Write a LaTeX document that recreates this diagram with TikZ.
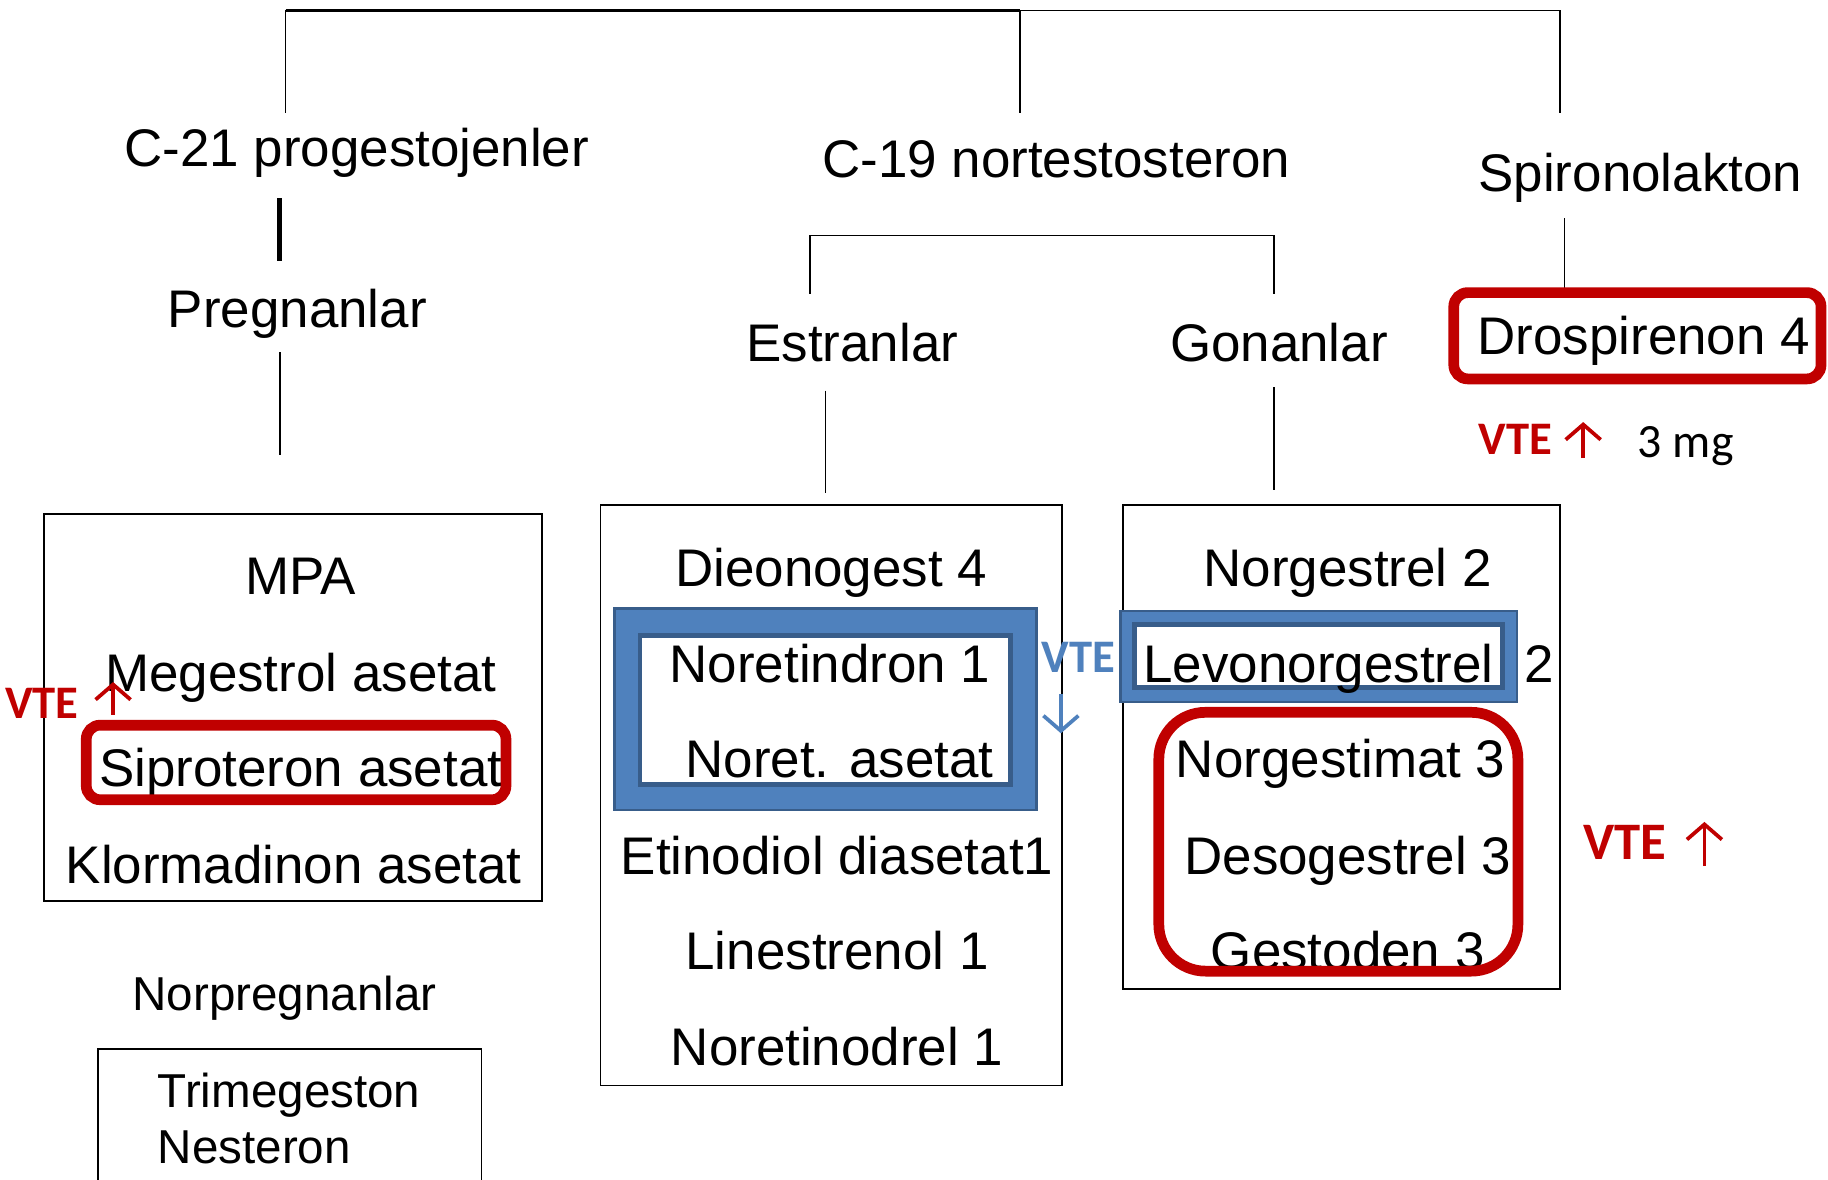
\documentclass[tikz,border=0pt]{standalone}
\usepackage{fontspec}
\setmainfont{Liberation Sans}
\newfontfamily\calibri{Carlito}
\usetikzlibrary{arrows.meta}
\definecolor{vtered}{HTML}{C00000}
\definecolor{vteblue}{HTML}{4F81BD}
\definecolor{blueedge}{HTML}{385D8A}

\begin{document}
\begin{tikzpicture}[x=0.5pt, y=-0.5pt,
    big/.style={font=\fontsize{22.7}{27}\selectfont, inner sep=0pt, anchor=base},
    smalltxt/.style={font=\fontsize{20.4}{24}\selectfont, inner sep=0pt, anchor=base west},
    vte/.style={font=\calibri\bfseries\fontsize{20}{24}\selectfont, inner sep=0pt, anchor=base},
    frame/.style={draw, line width=0.75pt},
    redbox/.style={draw=vtered, line width=4.6pt, rounded corners=6pt},
    vtearrow/.style={line width=1.6pt, -{Straight Barb[length=6.5pt, width=15pt]}}]

    \fill [white] (0, 0) rectangle (1568, 1012);
    \useasboundingbox (0, 0) rectangle (1568, 1012);

    % tree lines
    \coordinate (root l) at (245, 9);
    \coordinate (root m) at (875, 9);
    \coordinate (root r) at (1338, 9);
    \draw [line width=1pt] (root l) -- (root m);
    \draw [line width=0.6pt] (root m) -- (root r);
    \draw [line width=0.7pt] (root l) -- ++(0, 88);
    \draw [line width=0.7pt] (root m) -- ++(0, 88);
    \draw [line width=0.7pt] (root r) -- ++(0, 88);

    % group names
    \node [big] (c21) at (306, 143) {C-21 progestojenler};
    \node [big] (c19) at (906, 152) {C-19 nortestosteron};
    \node [big] (spiro) at (1407, 164) {Spironolakton};
    \node [big] (preg) at (255, 281) {Pregnanlar};
    \node [big] (estr) at (731, 310) {Estranlar};
    \node [big] (gon) at (1097, 310) {Gonanlar};

    \coordinate (c21 foot) at (240, 170);
    \coordinate (preg head) at (240, 224);
    \coordinate (preg foot) at (240, 302);
    \coordinate (mpa head) at (240, 390);
    \draw [line width=2pt] (c21 foot) -- (preg head);
    \draw [line width=0.7pt] (preg foot) -- (mpa head);

    \coordinate (estr top) at (695, 252);
    \coordinate (gon top) at (1093, 252);
    \draw [line width=0.7pt] (estr top) -- (695, 202) -| (gon top);
    \coordinate (estr foot) at (708, 335);
    \coordinate (estr box) at (708, 423);
    \coordinate (gon foot) at (1093, 332);
    \coordinate (gon box) at (1093, 420);
    \draw [line width=0.7pt] (estr foot) -- (estr box);
    \draw [line width=0.7pt] (gon foot) -- (gon box);

    % boxes
    \draw [frame] (38, 441) rectangle (465, 773);
    \draw [frame] (84, 1016) -- (84, 900) -- (413, 900) -- (413, 1016);
    \draw [frame] (515, 433) rectangle (911, 931);
    \draw [frame] (963, 433) rectangle (1338, 848);

    \draw [draw=blueedge, fill=vteblue, line width=1pt] (527, 522) rectangle (889, 695);
    \draw [draw=blueedge, fill=white, line width=2pt] (549, 545) rectangle (867, 673);
    \draw [draw=blueedge, fill=vteblue, line width=1pt] (961, 524) rectangle (1301, 602);
    \draw [draw=blueedge, fill=white, line width=2.2pt] (973, 536) rectangle (1289, 590);

    % C-21
    \node [big] (mpa) at (258, 510) {MPA};
    \node [big] (mege) at (258, 593) {Megestrol asetat};
    \node [big] (sipro) at (258, 675) {Siproteron asetat};
    \node [big] (klor) at (252, 758) {Klormadinon asetat};
    \node [smalltxt, anchor=base] (norpreg) at (244, 867) {Norpregnanlar};
    \node [smalltxt] (trime) at (135, 950) {Trimegeston};
    \node [smalltxt] (nest) at (135, 998) {Nesteron};

    % estranlar
    \node [big] (dieno) at (713, 503) {Dieonogest 4};
    \node [big] (noretin) at (712, 585) {Noretindron 1};
    \node [big] (noretas) at (720, 667) {Noret. asetat};
    \node [big] (etino) at (718, 750) {Etinodiol diasetat1};
    \node [big] (lines) at (718, 832) {Linestrenol 1};
    \node [big] (noretino) at (718, 914) {Noretinodrel 1};

    % gonanlar
    \node [big] (norg) at (1156, 503) {Norgestrel 2};
    \node [big] (levo) at (1131, 585) {Levonorgestrel};
    \node [big] (levo num) at (1320, 585) {2};
    \node [big] (norgim) at (1150, 667) {Norgestimat 3};
    \node [big] (deso) at (1156, 750) {Desogestrel 3};
    \node [big] (gesto) at (1156, 832) {Gestoden 3};

    % spironolakton
    \node [big] (dros) at (1410, 304) {Drospirenon 4};
    \coordinate (spiro foot) at (1342, 187);
    \coordinate (dros head) at (1342, 247);
    \draw [line width=0.7pt] (spiro foot) -- (dros head);

    \draw [redbox] (74, 622) rectangle (434, 686);
    \draw [redbox, rounded corners=20pt] (994, 611) rectangle (1302, 833);
    \draw [redbox] (1247, 251) rectangle (1562, 325);

    % VTE marks
    \node [vte, text=vtered] (vte cpa) at (36, 616) {VTE};
    \draw [vtearrow, vtered] (97, 613) -- (97, 585);
    \node [vte, text=vteblue] (vte net) at (925, 577) {VTE};
    \draw [vtearrow, vteblue] (910, 595) -- (910, 629);
    \node [vte, text=vtered, font=\calibri\bfseries\fontsize{22.6}{26}\selectfont] (vte gon) at (1394, 737) {VTE};
    \draw [vtearrow, vtered] (1462, 743) -- (1462, 705);
    \node [vte, text=vtered] (vte dros) at (1300, 390) {VTE};
    \draw [vtearrow, vtered] (1358, 393) -- (1358, 362);
    \node [vte, font=\calibri\fontsize{20.5}{24}\selectfont] (dose) at (1446, 392) {3 mg};
\end{tikzpicture}
\end{document}
